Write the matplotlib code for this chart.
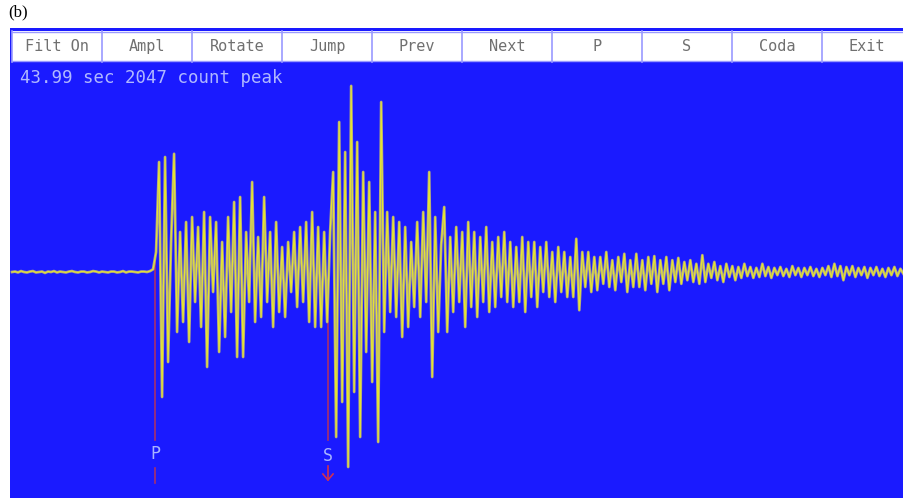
import numpy as np
import matplotlib
matplotlib.use('Agg')
import matplotlib.pyplot as plt
from matplotlib.patches import Rectangle

# --- data ---
window_secs = 43.99
peak_counts = 2047
p_pick = 7.05     # sec
s_pick = 15.58    # sec
dt = 0.148        # sample spacing, sec

buttons = ['Filt On', 'Ampl', 'Rotate', 'Jump', 'Prev', 'Next', 'P', 'S', 'Coda', 'Exit']

# pre-event noise, counts
pre_event = [0, 5, -5, 10, 0, -5, 5, 10, -5, 0, 5, -10, 5, 0, 10, -5,
             5, 0, -5, 5, 10, 0, -5, 5, 5, -5, 0, 10, 5, -5, 5, 0,
             -5, 5, 5, -5, 0, 10, -5, 5, 5, 0, -5, 5, 5, 0, 10, 30]

# P arrival through S
p_coda = [220, 1210, -1375, 1265, -990, 330, 1300, -660, 440, -550,
          550, -770, 605, -330, 495, -605, 660, -1045, 605, -220,
          550, -880, 330, -715, 605, -440, 770, -935, 825, -935,
          440, -330, 990, -550, 385, -495, 825, -330, 440, -605,
          550, -440, 275, -495, 330, -220, 440, -385, 495, -330,
          550, -550, 660, -605, 495, -605, 440, -550, 440]

# S arrival and strong shaking
s_wave = [1100, -1815, 1650, -1430, 1320, -2145, peak_counts, -1320, 1430, -1815,
          1100, -880, 990, -1210, 660, -1870, 1870, -660, 660, -440,
          605, -495, 550, -715, 495, -605, 330, -385, 550, -495,
          660, -330, 1100, -1155, 605, -660, 300, 715, -660, 385]

# coda decay
coda = [-440, 495, -330, 440, -605, 550, -385, 440, -495, 385,
        -330, 495, -440, 330, -385, 385, -275, 440, -330, 330,
        -385, 275, -330, 385, -440, 330, -275, 330, -385, 275,
        -220, 330, -275, 220, -330, 275, -220, 220, -275, 165,
        -275, 365, -420, 220, -165, 220, -220, 165, -200, 165,
        -130, 220, -165, 130, -200, 165, -110, 200, -220, 130,
        -165, 200, -165, 130, -200, 165, -130, 175, -220, 130,
        -130, 165, -200, 130, -110, 155, -130, 110, -90, 130,
        -110, 90, -130, 185, -110, 90, -65, 110, -90, 65,
        -110, 90, -55, 65, -90, 55, -65, 90, -45, 55,
        -65, 45, -55, 90, -45, 55, -65, 45, -35, 55,
        -45, 35, -55, 65, -35, 45, -55, 45, -35, 55,
        -45, 35, -55, 45, -35, 65, -55, 90, -45, 65,
        -90, 55, -35, 65, -55, 45, -35, 55, -65, 45,
        -35, 55, -45, 35, -55, 45, -35, 55, -45, 35, -20]

counts = np.array(pre_event + p_coda + s_wave + coda, dtype=float)
t = np.arange(len(counts)) * dt

# --- figure ---
W, H = 904, 498
fig = plt.figure(figsize=(W / 100, H / 100), dpi=100)
fig.patch.set_facecolor('white')

bg_blue = '#1a1aff'
cpp = 11.0          # counts per pixel
pps = 20.28         # pixels per second

# main panel covers pixels x 10..904, y 28..498; baseline at y=272
ax = fig.add_axes([10 / W, 0, 894 / W, 470 / H])
ax.set_facecolor(bg_blue)
ax.set_xlim(-2 / pps, 892 / pps)
ax.set_ylim(-(498 - 272) * cpp, (272 - 28) * cpp)
ax.set_xticks([])
ax.set_yticks([])
for s in ax.spines.values():
    s.set_visible(False)


def py(y):
    # screen pixel row -> counts
    return (272 - y) * cpp


# pick markers
pick_col = '#a8306c'
lab_col = '#a8b4ff'
ax.plot([p_pick, p_pick], [py(262), py(440)], color=pick_col, lw=1.2, zorder=1)
ax.plot([p_pick, p_pick], [py(468), py(483)], color=pick_col, lw=1.2, zorder=1)
ax.text(p_pick, py(454), 'P', color=lab_col, ha='center', va='center',
        family='DejaVu Sans Mono', fontsize=12)
ax.plot([s_pick, s_pick], [py(297), py(440)], color=pick_col, lw=1.2, zorder=1)
ax.plot([s_pick, s_pick], [py(466), py(480)], color='#d03050', lw=1.2, zorder=1)
ax.plot([s_pick - 0.25, s_pick, s_pick + 0.25], [py(474), py(480), py(474)],
        color='#d03050', lw=1.2, zorder=1)
ax.text(s_pick, py(456), 'S', color=lab_col, ha='center', va='center',
        family='DejaVu Sans Mono', fontsize=12)

# trace: greyish body with a thin yellow core, like the screen capture
ax.plot(t, counts, color='#aca488', lw=2.0, zorder=2)
ax.plot(t, counts, color='#ecec28', lw=0.8, alpha=0.9, zorder=3)

ax.text(8 / pps, py(78), '%.2f sec %d count peak' % (window_secs, peak_counts),
        color='#b0b8ff', family='DejaVu Sans Mono', fontsize=12.5,
        ha='left', va='center')

# button bar
bar = fig.add_axes([10 / W, (498 - 63) / H, 894 / W, 34 / H])
bar.set_xlim(10, 904)
bar.set_ylim(63, 29)
bar.axis('off')
bar.add_patch(Rectangle((10, 29), 894, 34, facecolor=bg_blue, edgecolor='none'))
bar.add_patch(Rectangle((12, 31), 892, 31, facecolor='white', edgecolor='none'))
edges = [12 + 90 * i for i in range(11)]
for x in edges[:-1]:
    bar.plot([x, x], [31, 62], color='#9a9aff', lw=1.2)
bar.plot([12, 904], [31.5, 31.5], color='#9a9aff', lw=1.0)
bar.plot([12, 904], [61.5, 61.5], color='#9a9aff', lw=1.0)
for i, name in enumerate(buttons):
    bar.text(edges[i] + 45, 46.5, name, color='#707070', family='DejaVu Sans Mono',
             fontsize=11, ha='center', va='center')

fig.text(8 / W, 1 - 12 / H, '(b)', family='Liberation Serif', fontsize=12,
         ha='left', va='center', color='black')

fig.savefig('out.png', dpi=100)
